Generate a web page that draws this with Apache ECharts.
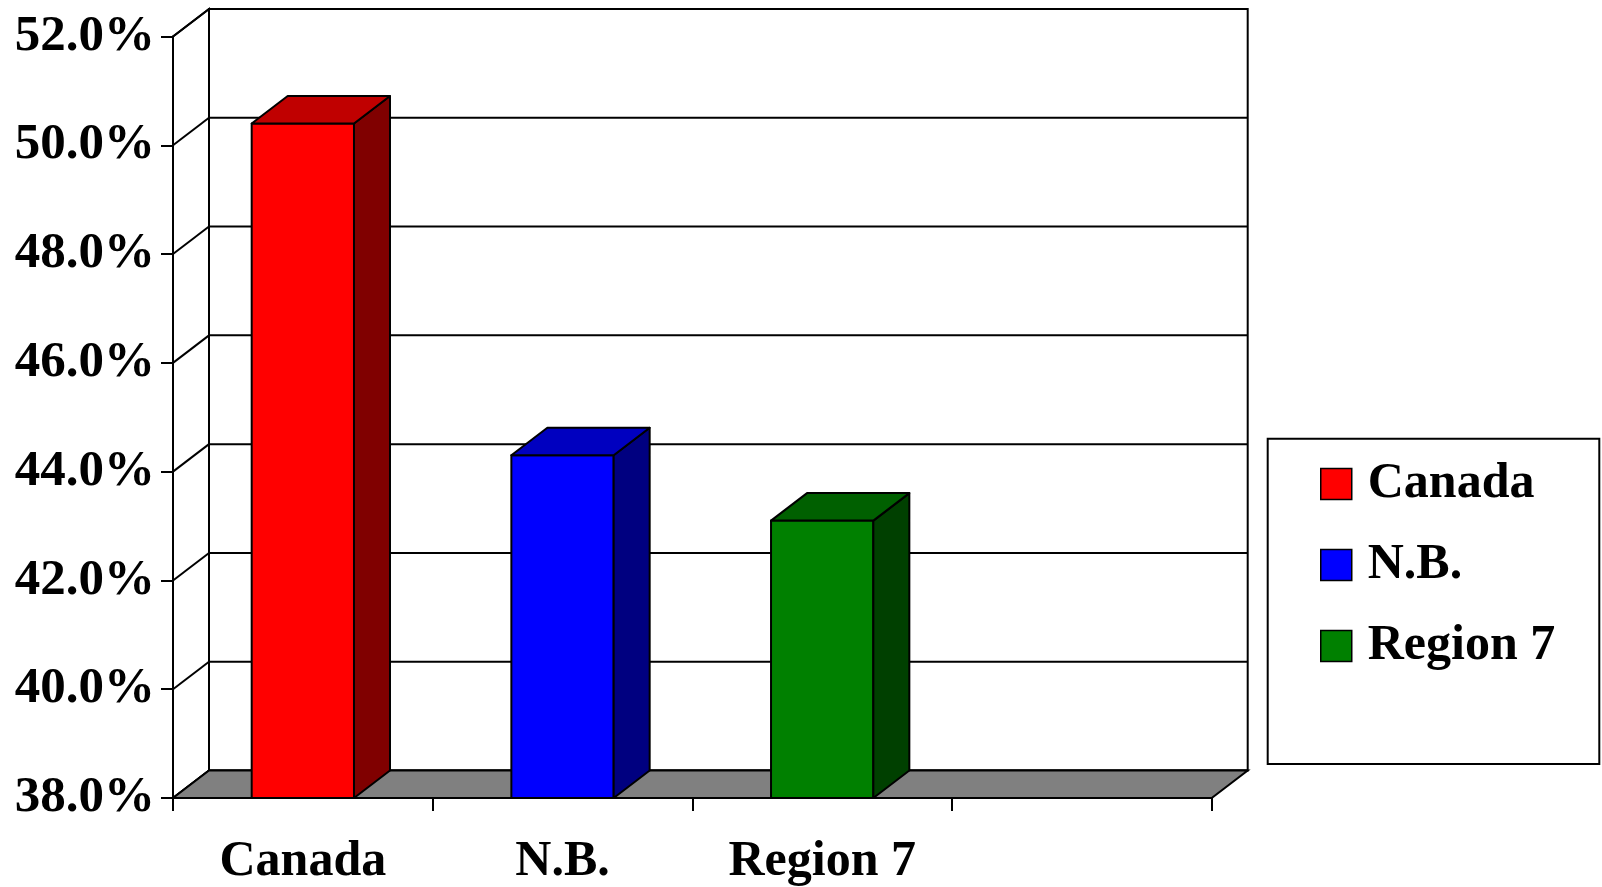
<!DOCTYPE html>
<html>
<head>
<meta charset="utf-8">
<script src="https://cdn.jsdelivr.net/npm/echarts@6/dist/echarts.min.js"></script>
<style>
html,body{margin:0;padding:0;background:#fff;}
#chart{width:1602px;height:887px;}
</style>
</head>
<body>
<div id="chart"></div>
<script>
// ---- data ----
var categories = ['Canada', 'N.B.', 'Region 7'];
var seriesNames = ['Canada', 'N.B.', 'Region 7'];
var seriesValues = [50.4, 44.3, 43.1];
var yTicks = [38, 40, 42, 44, 46, 48, 50, 52];

// ---- styles ----
var FONT = 'Liberation Serif';
var FS = 50;
var DX = 36, DY = 27.5;            // 3D depth offset
var BAR_RATIO = 0.394;
var palette = [
  {front: '#FF0000', side: '#800000', top: '#C00000'},
  {front: '#0000FF', side: '#000080', top: '#0000C0'},
  {front: '#008000', side: '#004000', top: '#006000'}
];
var axisCategories = categories.concat(['']);
var yMin = yTicks[0], yMax = yTicks[yTicks.length - 1], yInt = yTicks[1] - yTicks[0];

var chart = echarts.init(document.getElementById('chart'));

function renderWalls(params, api) {
  var cs = params.coordSys;
  var gx = cs.x, gy = cs.y, W = cs.width, H = cs.height;
  var edge = {stroke: '#000', lineWidth: 2};
  var children = [];
  // back wall
  children.push({type: 'rect', shape: {x: gx + DX, y: gy - DY, width: W, height: H},
    style: {fill: '#fff', stroke: '#000', lineWidth: 2}});
  // left wall
  children.push({type: 'polygon', shape: {points: [[gx, gy], [gx + DX, gy - DY], [gx + DX, gy + H - DY], [gx, gy + H]]},
    style: {fill: '#fff', stroke: '#000', lineWidth: 2}});
  // gridlines
  yTicks.forEach(function (t) {
    var y = api.coord([0, t])[1];
    children.push({type: 'line', shape: {x1: gx, y1: y, x2: gx + DX, y2: y - DY}, style: edge});
    children.push({type: 'line', shape: {x1: gx + DX, y1: y - DY, x2: gx + W + DX, y2: y - DY}, style: edge});
  });
  // floor
  children.push({type: 'polygon', shape: {points: [[gx, gy + H], [gx + W, gy + H], [gx + W + DX, gy + H - DY], [gx + DX, gy + H - DY]]},
    style: {fill: '#808080', stroke: '#000', lineWidth: 2}});
  return {type: 'group', children: children};
}

function makeBarRenderer(col) {
  return function (params, api) {
    var ci = api.value(0), v = api.value(1);
    var top = api.coord([ci, v]);
    var base = api.coord([ci, yMin]);
    var w = api.size([1, 0])[0] * BAR_RATIO;
    var x0 = top[0] - w / 2, x1 = top[0] + w / 2;
    var yt = top[1], yb = base[1];
    var st = {stroke: '#000', lineWidth: 2, lineJoin: 'round'};
    return {type: 'group', children: [
      {type: 'polygon', shape: {points: [[x0, yt], [x1, yt], [x1, yb], [x0, yb]]},
        style: Object.assign({fill: col.front}, st)},
      {type: 'polygon', shape: {points: [[x1, yt], [x1 + DX, yt - DY], [x1 + DX, yb - DY], [x1, yb]]},
        style: Object.assign({fill: col.side}, st)},
      {type: 'polygon', shape: {points: [[x0, yt], [x0 + DX, yt - DY], [x1 + DX, yt - DY], [x1, yt]]},
        style: Object.assign({fill: col.top}, st)}
    ]};
  };
}

var series = [{
  type: 'custom', name: '__walls', renderItem: renderWalls, data: [[0, yMin]],
  z: 1, silent: true, clip: false
}];
seriesNames.forEach(function (n, i) {
  series.push({
    type: 'custom', name: n, renderItem: makeBarRenderer(palette[i]),
    itemStyle: {color: palette[i].front},
    data: [[i, seriesValues[i]]], z: 3, clip: false
  });
});

chart.setOption({
  animation: false,
  backgroundColor: '#fff',
  grid: {left: 173, top: 36.5, width: 1038.7, height: 766, containLabel: false},
  xAxis: {
    type: 'category', data: axisCategories, boundaryGap: true,
    axisLine: {show: true, lineStyle: {color: '#000', width: 2}},
    axisTick: {show: true, length: 13, interval: 0, alignWithLabel: false, lineStyle: {color: '#000', width: 2}},
    axisLabel: {interval: 0, margin: 39, color: '#000', fontFamily: FONT, fontWeight: 'bold', fontSize: FS},
    splitLine: {show: false}
  },
  yAxis: {
    type: 'value', min: yMin, max: yMax, interval: yInt,
    axisLine: {show: true, lineStyle: {color: '#000', width: 2}},
    axisTick: {show: true, length: 12, lineStyle: {color: '#000', width: 2}},
    axisLabel: {margin: 18, color: '#000', fontFamily: FONT, fontWeight: 'bold', fontSize: 51,
      padding: [4, 0, 0, 0],
      formatter: function (v) { return v.toFixed(1) + '%'; }},
    splitLine: {show: false}
  },
  legend: {
    orient: 'vertical', left: 1320, top: 459, padding: 0,
    itemWidth: 31, itemHeight: 31, itemGap: 31, icon: 'rect',
    data: seriesNames.map(function (n, i) {
      return {name: n, icon: 'rect', itemStyle: {color: palette[i].front, borderColor: '#000', borderWidth: 1.5}};
    }),
    textStyle: {color: '#000', fontFamily: FONT, fontWeight: 'bold', fontSize: FS, lineHeight: 31,
      padding: [0, 0, 0, 11]},
    selectedMode: false
  },
  graphic: [{
    type: 'rect', left: 1266.7, top: 437.7, z: -1,
    shape: {x: 0, y: 0, width: 331.6, height: 325.3},
    style: {fill: '#fff', stroke: '#000', lineWidth: 2}
  }],
  series: series
});
</script>
</body>
</html>
